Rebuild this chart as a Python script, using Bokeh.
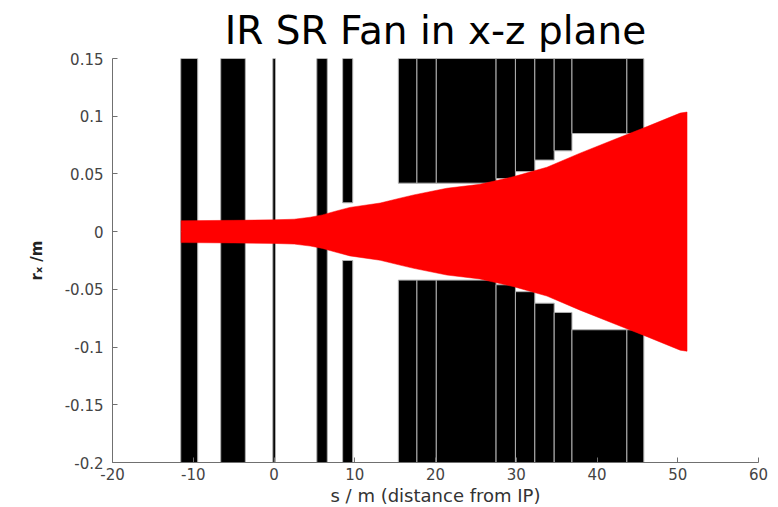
from bokeh.plotting import figure
from bokeh.models import Range1d, FixedTicker, Title
from bokeh.embed import file_html
from bokeh.resources import INLINE

# Magnet / absorber elements along the beamline: start, end (s in m) and half-aperture (m)
elem_start = [-11.55, -6.6, -0.15, 5.3, 8.5,
              15.4, 17.7, 20.1, 27.5, 29.9, 32.3, 34.7, 36.9, 43.7]
elem_end = [-9.45, -3.55, 0.18, 6.6, 9.75,
            17.7, 20.1, 27.5, 29.9, 32.3, 34.7, 36.9, 43.7, 45.8]
elem_aperture = [0.0, 0.0, 0.0, 0.0, 0.025,
                 0.042, 0.042, 0.042, 0.046, 0.052, 0.062, 0.070, 0.085, 0.085]

# Envelope of the synchrotron-radiation fan (half width in x, m) versus s
fan_s = [-11.5, -5.0, 0.0, 2.5, 4.5, 6.0, 7.5, 9.4, 13.15, 15.6, 17.3, 21.4, 25.5,
         29.7, 33.8, 37.9, 42.06, 46.2, 50.3, 51.15]
fan_half = [0.0095, 0.0098, 0.0102, 0.0108, 0.0125, 0.0145, 0.0175, 0.021, 0.0248,
            0.029, 0.0318, 0.0376, 0.041, 0.0477, 0.0558, 0.068, 0.0796, 0.091,
            0.1027, 0.1036]

x_ticks = [-20, -10, 0, 10, 20, 30, 40, 50, 60]
y_ticks = [-0.2, -0.15, -0.1, -0.05, 0, 0.05, 0.1, 0.15]
y_tick_labels = ["-0.2", "-0.15", "-0.1", "-0.05", "0", "0.05", "0.1", "0.15"]

X_MIN, X_MAX = -20, 60
Y_MIN, Y_MAX = -0.2, 0.15

p = figure(frame_width=646, frame_height=404,
           x_range=Range1d(X_MIN, X_MAX), y_range=Range1d(Y_MIN, Y_MAX),
           output_backend="svg", toolbar_location=None,
           min_border_left=112, min_border_right=20, min_border_top=58,
           min_border_bottom=0)
p.outline_line_color = None
p.xgrid.visible = False
p.ygrid.visible = False
p.background_fill_color = "white"
p.border_fill_color = "white"

# elements: upper and lower jaws
upper_bottom = [a for a in elem_aperture]
lower_top = [-a for a in elem_aperture]
p.quad(left=elem_start, right=elem_end, bottom=upper_bottom, top=[Y_MAX] * len(elem_start),
       fill_color="black", line_color="#b0b0b0", line_width=1)
p.quad(left=elem_start, right=elem_end, bottom=[Y_MIN] * len(elem_start), top=lower_top,
       fill_color="black", line_color="#b0b0b0", line_width=1)

# radiation fan
xs = fan_s + fan_s[::-1]
ys = fan_half + [-h for h in fan_half[::-1]]
p.patch(xs, ys, fill_color="#ff0000", line_color="#ff0000", line_width=0.5)

# axes, MATLAB-like: inward ticks, no box
for ax in (p.xaxis[0], p.yaxis[0]):
    ax.major_tick_in = 5
    ax.major_tick_out = 0
    ax.minor_tick_line_color = None
    ax.axis_line_color = "#707070"
    ax.major_tick_line_color = "#707070"
    ax.major_label_text_font = "DejaVu Sans"
    ax.major_label_text_font_size = "15px"
    ax.major_label_text_color = "#444444"
    ax.axis_label_text_font = "DejaVu Sans"
    ax.axis_label_text_font_size = "18px"
    ax.axis_label_text_color = "#333333"
    ax.axis_label_text_font_style = "normal"

p.xaxis.ticker = FixedTicker(ticks=x_ticks)
p.yaxis.ticker = FixedTicker(ticks=y_ticks)
p.yaxis.major_label_overrides = {t: l for t, l in zip(y_ticks, y_tick_labels)}
p.xaxis.major_label_overrides = {t: str(t) for t in x_ticks}
p.xaxis.major_label_standoff = 5
p.yaxis.major_label_standoff = 9
p.xaxis.axis_label = "s / m (distance from IP)"
p.xaxis.axis_label_standoff = 2
p.yaxis.axis_label = "rₓ /m"
p.yaxis.axis_label_text_font_size = "15px"
p.yaxis.axis_label_text_font_style = "bold"
p.yaxis.axis_label_text_color = "#222222"
p.yaxis.axis_label_standoff = 16

p.add_layout(Title(text="IR SR Fan in x-z plane", align="center",
                   text_font="DejaVu Sans", text_font_size="39px",
                   text_font_style="normal", text_color="black",
                   standoff=11), "above")

open("out.html", "w").write(file_html(p, INLINE))
